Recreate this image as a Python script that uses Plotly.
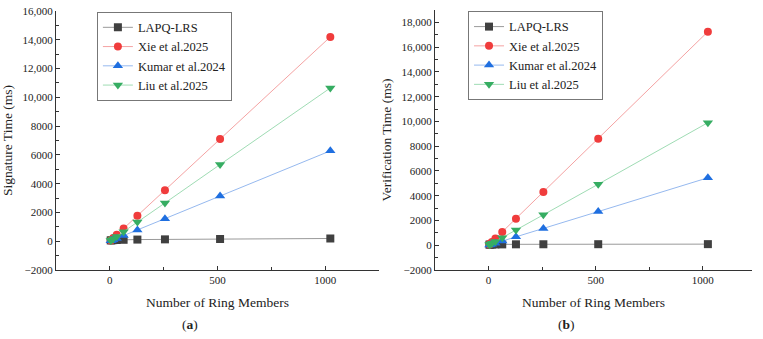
import plotly.graph_objects as go

ring_members = [4, 8, 16, 32, 64, 128, 256, 512, 1024]

# Signature time (ms)
sig_lapq = [60, 65, 75, 85, 100, 115, 130, 155, 190]
sig_xie = [55, 111, 222, 444, 888, 1775, 3550, 7100, 14200]
sig_kumar = [25, 50, 98, 196, 392, 785, 1570, 3140, 6280]
sig_liu = [42, 83, 166, 333, 666, 1330, 2660, 5330, 10650]

# Verification time (ms)
ver_lapq = [50, 55, 60, 65, 70, 75, 80, 85, 90]
ver_xie = [67, 135, 270, 540, 1080, 2150, 4300, 8600, 17250]
ver_kumar = [21, 43, 85, 170, 340, 680, 1360, 2720, 5450]
ver_liu = [39, 77, 155, 310, 615, 1230, 2460, 4930, 9900]

series_names = ["LAPQ-LRS", "Xie et al.2025", "Kumar et al.2024", "Liu et al.2025"]

x_tickvals = [0, 500, 1000]
x_ticktext = ["0", "500", "1000"]
y1_tickvals = [-2000, 0, 2000, 4000, 6000, 8000, 10000, 12000, 14000, 16000]
y1_ticktext = ["\u22122000", "0", "2000", "4000", "6000", "8000", "10,000", "12,000", "14,000", "16,000"]
y2_tickvals = [-2000, 0, 2000, 4000, 6000, 8000, 10000, 12000, 14000, 16000, 18000]
y2_ticktext = ["\u22122000", "0", "2000", "4000", "6000", "8000", "10,000", "12,000", "14,000", "16,000", "18,000"]

marker_colors = ["#404040", "#f03c3c", "#1f6fe0", "#36ad62"]
line_colors = ["#9a9a9a", "#f5a3a3", "#96b9ef", "#9fdcb4"]
symbols = ["square", "circle", "triangle-up", "triangle-down"]
sizes = [8, 8, 9, 9]

FONT = "'Liberation Serif', 'Times New Roman', Times, serif"

fig = go.Figure()

for xa, ya, leg, data in [
    ("x", "y", "legend", [sig_lapq, sig_xie, sig_kumar, sig_liu]),
    ("x2", "y2", "legend2", [ver_lapq, ver_xie, ver_kumar, ver_liu]),
]:
    for i, vals in enumerate(data):
        fig.add_trace(go.Scatter(
            x=ring_members, y=vals, mode="lines+markers", name=series_names[i],
            xaxis=xa, yaxis=ya, legend=leg,
            line=dict(color=line_colors[i], width=1),
            marker=dict(color=marker_colors[i], symbol=symbols[i], size=sizes[i],
                        line=dict(width=0)),
        ))

axis_common = dict(
    showline=True, linecolor="#333333", linewidth=1, mirror=False, automargin=False,
    showgrid=False, zeroline=False, ticks="inside", ticklen=4, tickwidth=1,
    tickcolor="#333333", tickfont=dict(family=FONT, size=11, color="#222222"),
)

fig.update_layout(
    width=763, height=339,
    margin=dict(l=0, r=0, t=0, b=0, autoexpand=False),
    paper_bgcolor="white", plot_bgcolor="white",
    font=dict(family=FONT, color="#222222"),
    xaxis=dict(domain=[0.0734, 0.4967], range=[-250, 1250], anchor="y",
               tickvals=x_tickvals, ticktext=x_ticktext,
               minor=dict(tickvals=[-250, 250, 750, 1250], ticks="inside", ticklen=3, tickcolor="#333333"),
               title=dict(text="Number of Ring Members", font=dict(family=FONT, size=13.5), standoff=12),
               **axis_common),
    yaxis=dict(domain=[0.2035, 0.9676], range=[-2000, 16000], anchor="x",
               tickvals=y1_tickvals, ticktext=y1_ticktext,
               minor=dict(dtick=1000, tick0=0, ticks="inside", ticklen=3, tickcolor="#333333"),
               title=dict(text="Signature Time (ms)", font=dict(family=FONT, size=13.5), standoff=6),
               **axis_common),
    xaxis2=dict(domain=[0.5701, 0.9856], range=[-250, 1230], anchor="y2",
                tickvals=x_tickvals, ticktext=x_ticktext,
                minor=dict(tickvals=[-250, 250, 750], ticks="inside", ticklen=3, tickcolor="#333333"),
                title=dict(text="Number of Ring Members", font=dict(family=FONT, size=13.5), standoff=12),
                **axis_common),
    yaxis2=dict(domain=[0.2035, 0.9705], range=[-2000, 19000], anchor="x2",
                tickvals=y2_tickvals, ticktext=y2_ticktext,
                minor=dict(dtick=1000, tick0=0, ticks="inside", ticklen=3, tickcolor="#333333"),
                title=dict(text="Verification Time (ms)", font=dict(family=FONT, size=13.5), standoff=6),
                **axis_common),
    legend=dict(x=0.127, y=0.9655, xanchor="left", yanchor="top",
                bordercolor="#777777", borderwidth=1, bgcolor="white",
                font=dict(family=FONT, size=12.5, color="#222222"),
                tracegroupgap=0, itemwidth=30),
    legend2=dict(x=0.6134, y=0.9676, xanchor="left", yanchor="top",
                 bordercolor="#777777", borderwidth=1, bgcolor="white",
                 font=dict(family=FONT, size=12.5, color="#222222"),
                 tracegroupgap=0, itemwidth=30),
    annotations=[
        dict(text="(<b>a</b>)", x=190 / 763, y=0, xref="paper", yref="paper",
             xanchor="center", yanchor="bottom", yshift=5,
             showarrow=False, font=dict(family=FONT, size=13.5, color="#222222")),
        dict(text="(<b>b</b>)", x=566 / 763, y=0, xref="paper", yref="paper",
             xanchor="center", yanchor="bottom", yshift=5,
             showarrow=False, font=dict(family=FONT, size=13.5, color="#222222")),
    ],
)

fig.write_html("out.html")
